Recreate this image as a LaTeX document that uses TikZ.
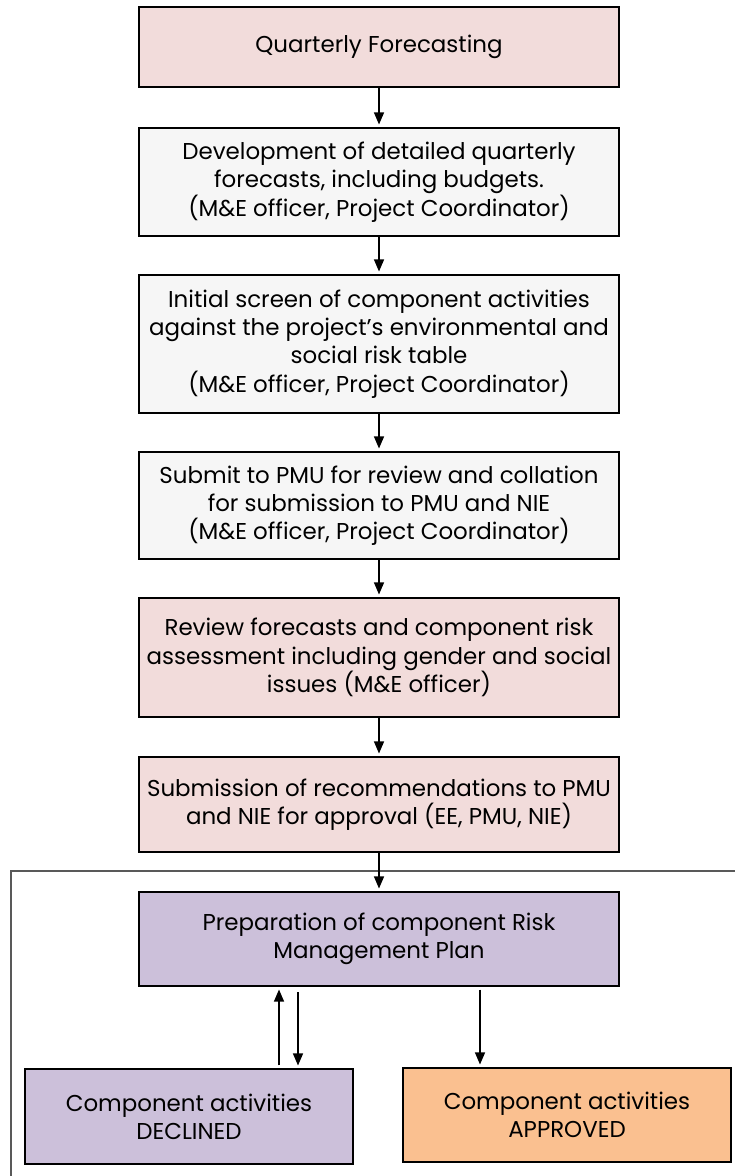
\documentclass[tikz,border=0pt]{standalone}
\usepackage{fontspec}
\setmainfont{Poppins}
\usepackage{xcolor}
\usetikzlibrary{arrows.meta}
\definecolor{rosa}{HTML}{F2DCDB}
\definecolor{grau}{HTML}{F6F6F6}
\definecolor{lila}{HTML}{CCC0DA}
\definecolor{orange}{HTML}{FAC090}

\begin{document}
\begin{tikzpicture}[x=0.75pt,y=-0.75pt,
  kasten/.style={draw=black, line width=1.3pt, align=center, minimum width=360pt,
    inner sep=1pt, font=\fontsize{17.2}{21.2}\selectfont},
  pfeil/.style={-{Triangle[width=7.5pt,length=9pt]}, line width=0.9pt, shorten >=2pt}]
\useasboundingbox (0,0) rectangle (735,1176);
%\draw[help lines,yellow,thin] (0,0) grid[step=50] (735,1176);
\draw [gray!70!black, line width=0.8pt] (11,1176) -- (11,871) -- (735,871);
\node [kasten, fill=rosa, minimum height=60pt] (A) at (379,47) {Quarterly Forecasting};
\node [kasten, fill=grau, minimum height=81pt] (B) at (379,182) {Development of detailed quarterly\\forecasts, including budgets.\\(M\&E officer, Project Coordinator)};
\node [kasten, fill=grau, minimum height=103.5pt] (C) at (379,344) {Initial screen of component activities\\against the project’s environmental and\\social risk table\\(M\&E officer, Project Coordinator)};
\node [kasten, fill=grau, minimum height=80.25pt] (D) at (379,505.5) {Submit to PMU for review and collation\\for submission to PMU and NIE\\(M\&E officer, Project Coordinator)};
\node [kasten, fill=rosa, minimum height=89.25pt] (E) at (379,657.5) {Review forecasts and component risk\\assessment including gender and social\\issues (M\&E officer)};
\node [kasten, fill=rosa, minimum height=71.25pt] (F) at (379,804.5) {Submission of recommendations to PMU\\and NIE for approval (EE, PMU, NIE)};
\node [kasten, fill=lila, minimum height=70.5pt] (G) at (379,939) {Preparation of component Risk\\Management Plan};
\node [kasten, fill=lila, minimum height=71.25pt, minimum width=246pt] (H) at (189,1116.5) {Component activities\\DECLINED};
\node [kasten, fill=orange, minimum height=70.5pt, minimum width=246pt] (I) at (567,1115) {Component activities\\APPROVED};
\draw [pfeil] (A) -- (B);
\draw [pfeil] (B) -- (C);
\draw [pfeil] (C) -- (D);
\draw [pfeil] (D) -- (E);
\draw [pfeil] (E) -- (F);
\draw [pfeil] (F) -- (G);
\draw [pfeil, shorten <=2pt] ([xshift=67.5pt]H.north) -- ([xshift=-75pt]G.south);
\draw [pfeil, shorten <=4pt] ([xshift=-60.75pt]G.south) -- ([xshift=81.75pt]H.north);
\draw [pfeil, shorten <=2pt] ([xshift=75.75pt]G.south) -- ([xshift=-65.25pt]I.north);
\end{tikzpicture}
\end{document}
